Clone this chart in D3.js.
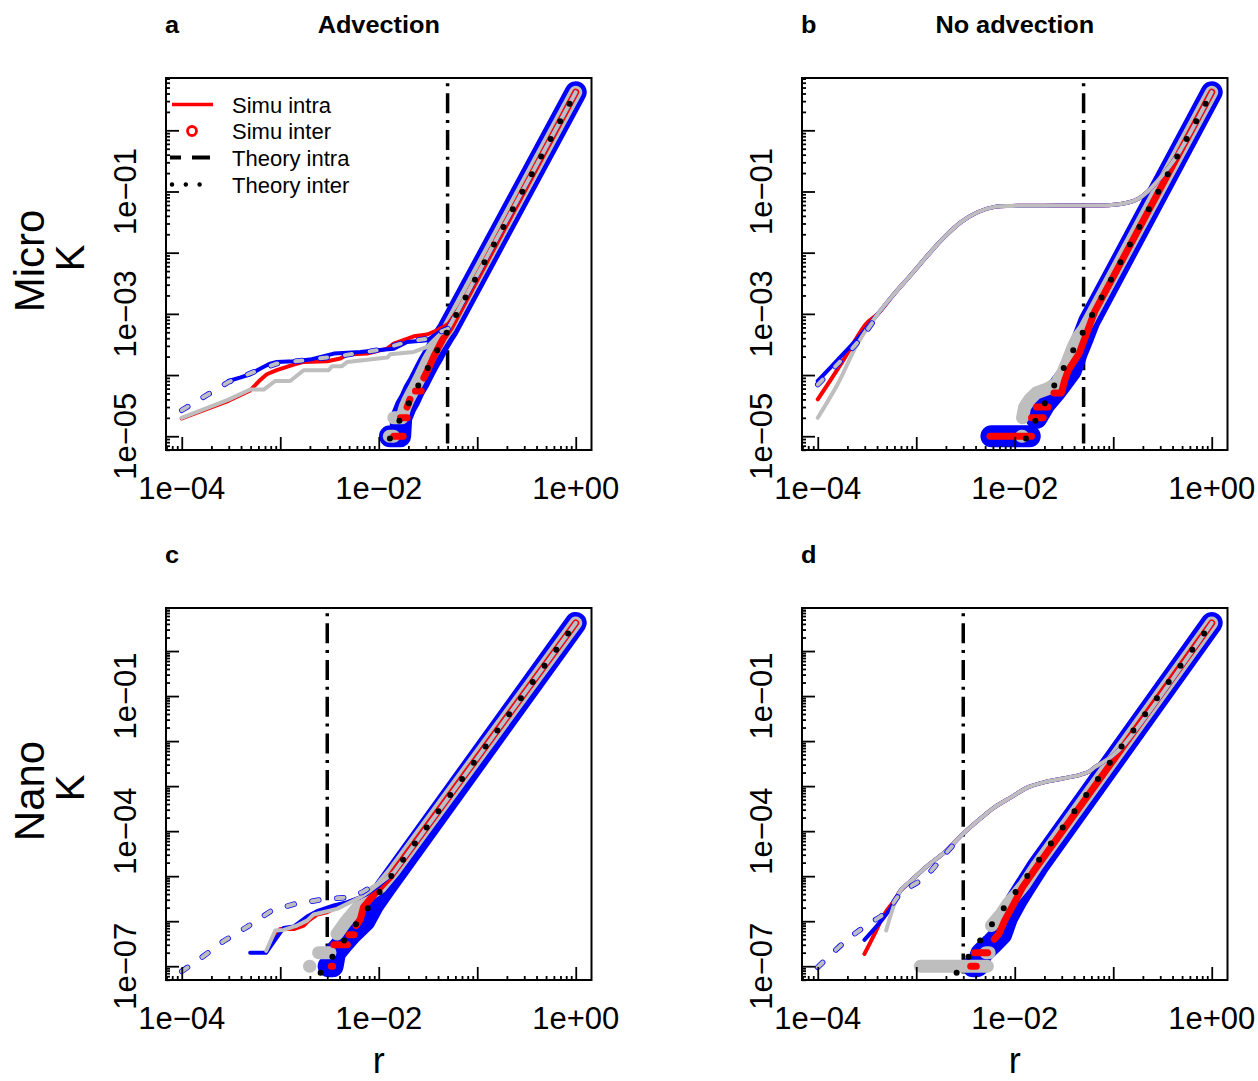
<!DOCTYPE html>
<html>
<head>
<meta charset="utf-8">
<script src="https://cdn.jsdelivr.net/npm/d3@7/dist/d3.min.js"></script>
<style>
  body { margin: 0; background: #fff; }
  svg text { font-family: "Liberation Sans", Arial, Helvetica, sans-serif; fill: #000; }
</style>
</head>
<body>
<svg id="fig" width="1258" height="1081"></svg>
<script>
// ---- labels
const titles = ["Advection", "No advection"];
const panelTags = ["a", "b", "c", "d"];
const rowLabels = ["Micro", "Nano"];
const legendLabels = ["Simu intra", "Simu inter", "Theory intra", "Theory inter"];
const xLabelVals = [1e-4, 1e-2, 1];
const xLabelText = ["1e\u221204", "1e\u221202", "1e+00"];
const yLabelVals = [[1e-5, 1e-3, 1e-1], [1e-7, 1e-4, 1e-1]];
const yLabelText = [["1e\u221205", "1e\u221203", "1e\u221201"], ["1e\u221207", "1e\u221204", "1e\u221201"]];

// vertical cut-off radius per panel
const rCut = [0.05, 0.05, 0.003, 0.003];

// theory inter (K of a uniform pattern), read at both ends
const theoryInter = [[1e-4, 4.2e-12], [1, 4.2]];

// ---- panel a : micro, advection   [r, K]
const intraRedA = [[1e-4,1.95e-5],[2.98e-4,3.8e-5],[4.95e-4,5.6e-5],[6.3e-4,8.4e-5],[7.3e-4,1.03e-4],[9.2e-4,1.2e-4],[1.37e-3,1.48e-4],[1.73e-3,1.64e-4],[3.0e-3,1.68e-4],[4.07e-3,1.86e-4],[4.8e-3,2.16e-4],[7.6e-3,2.24e-4],[1.22e-2,2.7e-4],[1.42e-2,3.27e-4],[2.27e-2,4.3e-4],[3.1e-2,4.6e-4],[3.92e-2,5.4e-4],[5.07e-2,6.8e-4],[7e-2,1.45e-3],[1,4.2]];
const intraBlueA = [[2.98e-4,8.0e-5],[3.9e-4,9.1e-5],[4.95e-4,1.03e-4],[6.3e-4,1.28e-4],[7.9e-4,1.54e-4],[9.2e-4,1.64e-4],[1.37e-3,1.68e-4],[2.0e-3,1.79e-4],[3.5e-3,2.24e-4],[6.5e-3,2.39e-4],[9.6e-3,2.54e-4],[1.42e-2,2.7e-4],[1.94e-2,3.48e-4],[3.1e-2,3.7e-4],[3.92e-2,4.76e-4],[5.07e-2,6.1e-4],[7e-2,1.45e-3],[1,4.2]];
const intraGreyA = [[1e-4,2.0e-5],[2.98e-4,3.97e-5],[4.95e-4,5.8e-5],[6.8e-4,5.8e-5],[8.9e-4,8.0e-5],[1.26e-3,8.0e-5],[1.73e-3,1.2e-4],[3.1e-3,1.2e-4],[3.35e-3,1.39e-4],[4.2e-3,1.39e-4],[4.8e-3,1.64e-4],[1.22e-2,1.93e-4],[1.31e-2,2.19e-4],[2.27e-2,2.39e-4],[3.1e-2,2.88e-4],[3.48e-2,3.48e-4],[4.24e-2,4.76e-4],[5.07e-2,5.7e-4],[1,4.2]];
const theoryIntraA = [[1e-4,2.66e-5],[2.98e-4,7.7e-5],[6.3e-4,1.24e-4],[9.2e-4,1.54e-4],[2.0e-3,1.79e-4],[4.4e-3,2.1e-4],[9.6e-3,2.54e-4],[1.94e-2,3.48e-4],[3.1e-2,3.94e-4],[4.24e-2,5.1e-4],[5.07e-2,5.7e-4]];
const interBlueA = [[[1.3e-2,1e-5],[1.65e-2,1e-5],[1.69e-2,2e-5],[1.87e-2,3e-5],[2.07e-2,4e-5],[2.27e-2,5.6e-5],[2.55e-2,7.7e-5],[2.87e-2,1.12e-4],[3.22e-2,1.6e-4],[3.62e-2,2.2e-4],[4.07e-2,3.2e-4],[4.58e-2,4.4e-4],[5.07e-2,5.7e-4],[1,4.2]]];
const interGreyA = [[[1.28e-2,1e-5],[1.42e-2,1e-5]],[[1.42e-2,2e-5],[1.72e-2,2e-5],[1.85e-2,3e-5],[2.0e-2,4e-5],[2.15e-2,5e-5],[2.35e-2,6.5e-5],[2.6e-2,9e-5],[2.9e-2,1.3e-4],[3.2e-2,1.8e-4],[3.6e-2,2.5e-4],[4.1e-2,3.5e-4],[4.6e-2,4.7e-4],[5.1e-2,5.9e-4],[1,4.2]]];
const interRedA = [[[1.42e-2,1e-5],[1.77e-2,1e-5]],[[1.66e-2,2e-5],[1.94e-2,2e-5]],[[1.94e-2,3e-5],[2.07e-2,4e-5]],[[2.36e-2,5.5e-5],[2.7e-2,5.5e-5]],[[2.87e-2,9e-5],[3.22e-2,1.3e-4],[3.62e-2,2.0e-4],[4.07e-2,2.9e-4],[4.6e-2,4.2e-4],[5.36e-2,6.0e-4],[1,4.2]]];

// ---- panel b : micro, no advection
const intraTailB = [[4.07e-4,1.0e-3],[6.0e-4,2.14e-3],[8.9e-4,4.4e-3],[1.31e-3,9.1e-3],[1.94e-3,1.81e-2],[2.87e-3,3.18e-2],[4.24e-3,4.63e-2],[6.26e-3,5.6e-2],[9.25e-3,5.8e-2],[2.02e-2,5.87e-2],[4.99e-2,5.9e-2],[9.6e-2,6.0e-2],[0.142,6.6e-2],[0.18,7.6e-2],[0.227,0.102],[0.276,0.143],[0.335,0.208],[0.458,0.416],[1,4.2]];
const intraRedB = [[1e-4,4.0e-5],[1.73e-4,1.54e-4],[3.1e-4,6.9e-4], ...intraTailB];
const intraBlueB = [[1e-4,8.0e-5],[1.6e-4,1.79e-4],[2.76e-4,4.6e-4], ...intraTailB];
const intraGreyB = [[1e-4,2.0e-5],[1.6e-4,7.2e-5],[2.55e-4,3.3e-4], ...intraTailB];
const theoryIntraB = [[1e-4,7e-5],[2.6e-4,3.6e-4],[4.07e-4,9.6e-4]];
const interBlueB = [[[5.8e-3,1e-5],[1.42e-2,1e-5]],[[1.66e-2,2e-5],[2.02e-2,3.4e-5],[2.6e-2,5.5e-5],[3.1e-2,8e-5],[3.72e-2,1.2e-4],[4.24e-2,2.24e-4],[4.97e-2,4.2e-4],[5.7e-2,7.5e-4],[1,4.2]]];
const interGreyB = [[[1.17e-2,1e-5],[1.2e-2,1e-5]],[[1.2e-2,2e-5],[1.26e-2,3e-5],[1.42e-2,4e-5],[1.66e-2,5.1e-5],[2.18e-2,6e-5],[2.65e-2,7.3e-5],[3.1e-2,1.12e-4],[3.48e-2,1.75e-4],[3.92e-2,2.88e-4],[4.4e-2,4.2e-4],[5.07e-2,5.7e-4],[1,4.2]]];
const interRedB = [[[5.6e-3,1e-5],[1.48e-2,1e-5]],[[1.48e-2,2e-5],[1.94e-2,2e-5]],[[1.66e-2,3e-5],[2.18e-2,3e-5]],[[2.5e-2,5.1e-5],[2.98e-2,5.1e-5],[3.2e-2,8e-5],[3.5e-2,1.2e-4],[4.5e-2,2.24e-4],[5.2e-2,4.2e-4],[6.5e-2,1.1e-3],[1,4.2]]];

// ---- panel c : nano, advection
const intraRedC = [[7.3e-4,2.2e-7],[8.9e-4,5.2e-7],[1.0e-3,6.7e-7],[1.37e-3,6.7e-7],[1.73e-3,8.0e-7],[1.94e-3,1.03e-6],[2.36e-3,1.4e-6],[2.98e-3,1.58e-6],[4.07e-3,2.23e-6],[6.5e-3,3.4e-6],[8.9e-3,5.2e-6],[1.42e-2,1.2e-5],[1,4.2]];
const intraBlueC = [[4.95e-4,2.0e-7],[7.2e-4,2.0e-7],[1.08e-3,7.1e-7],[1.37e-3,7.6e-7],[1.87e-3,1.27e-6],[2.36e-3,1.67e-6],[3.5e-3,2.23e-6],[4.8e-3,2.64e-6],[6.5e-3,3.4e-6],[7.6e-3,4.05e-6],[9.6e-3,5.7e-6],[1.42e-2,1.2e-5],[1,4.2]];
const intraGreyC = [[7.2e-4,2.2e-7],[8.9e-4,6.2e-7],[1.08e-3,6.4e-7],[1.48e-3,8.0e-7],[1.87e-3,1.03e-6],[2.18e-3,1.41e-6],[3.77e-3,1.88e-6],[6.5e-3,3.4e-6],[8.2e-3,4.8e-6],[1.42e-2,1.2e-5],[1,4.2]];
const theoryIntraC = [[1e-4,7.7e-8],[1.64e-4,1.64e-7],[2.65e-4,3.6e-7],[4.66e-4,7.6e-7],[8.2e-4,1.73e-6],[1.42e-3,2.43e-6],[2.55e-3,2.98e-6],[4.95e-3,3.4e-6],[6.8e-3,4.4e-6],[8.9e-3,6.3e-6]];
const interBlueC = [[[3.1e-3,1e-7],[3.4e-3,1e-7],[3.6e-3,2e-7],[4.24e-3,3.1e-7],[5.2e-3,5.2e-7],[7.2e-3,1.03e-6],[8.9e-3,2.43e-6],[1.17e-2,5.7e-6],[1,4.2]]];
const interGreyC = [[[1.98e-3,1e-7],[2.0e-3,1e-7]],[[2.45e-3,2e-7],[3.2e-3,2e-7]],[[3.77e-3,5.2e-7],[4.58e-3,9.5e-7],[5.57e-3,1.58e-6],[6.8e-3,2.64e-6],[8.2e-3,4.05e-6],[1.04e-2,5.7e-6],[1.42e-2,1.29e-5],[1,4.2]]];
const interRedC = [[[3.3e-3,1e-7],[3.4e-3,1e-7]],[[3.5e-3,3e-7],[4.8e-3,3e-7]],[[5.0e-3,5e-7],[5.6e-3,5e-7]],[[5.9e-3,8e-7],[6.5e-3,1.1e-6],[7.0e-3,2.05e-6],[8.2e-3,3.13e-6],[1.04e-2,5.7e-6],[1.3e-2,9.5e-6],[1,4.2]]];

// ---- panel d : nano, no advection
const intraTailD = [[6.93e-4,4.8e-6],[8.9e-4,8.0e-6],[1.31e-3,1.73e-5],[1.94e-3,3.4e-5],[2.98e-3,8.7e-5],[4.58e-3,1.98e-4],[6.26e-3,3.41e-4],[9.25e-3,5.7e-4],[1.37e-2,9.5e-4],[2.02e-2,1.23e-3],[2.98e-2,1.46e-3],[4.4e-2,1.73e-3],[5.57e-2,2.05e-3],[6.5e-2,2.64e-3],[7.6e-2,3.24e-3],[9.6e-2,4.56e-3],[0.131,8.7e-3],[1,4.2]];
const intraRedD = [[2.98e-4,1.88e-7],[3.77e-4,5.2e-7],[4.77e-4,1.46e-6],[6.0e-4,2.88e-6], ...intraTailD];
const intraBlueD = [[2.98e-4,3.85e-7],[4.58e-4,1.13e-6],[6.0e-4,2.64e-6], ...intraTailD];
const intraGreyD = [[4.95e-4,6.2e-7], ...intraTailD];
const theoryIntraD = [[1e-4,9.5e-8],[1.94e-4,3.7e-7],[3.1e-4,8e-7],[4.95e-4,1.58e-6],[7.0e-4,4.2e-6],[1.22e-3,9.5e-6],[1.94e-3,3.0e-5],[2.98e-3,8.7e-5]];
const interBlueD = [[[3.77e-3,1e-7],[4.17e-3,1e-7],[4.58e-3,1.9e-7],[5.8e-3,3.1e-7],[7.3e-3,5.2e-7],[8.4e-3,1.23e-6],[1.04e-2,2.9e-6],[1.26e-2,5.7e-6],[1.7e-2,1.6e-5],[1,4.2]]];
const interGreyD = [[[1.1e-3,1e-7],[5.27e-3,1e-7]],[[5.1e-3,2e-7],[5.5e-3,2e-7]],[[5.8e-3,8e-7],[7.3e-3,1.46e-6],[8.5e-3,2.4e-6],[1.0e-2,3.6e-6],[1.25e-2,6.5e-6],[1.7e-2,1.8e-5],[1,4.2]]];
const interRedD = [[[3.57e-3,1e-7],[4.07e-3,1e-7]],[[3.9e-3,2e-7],[5.3e-3,2e-7]],[[6.2e-3,4e-7],[6.9e-3,5.2e-7],[7.9e-3,1.03e-6],[1.02e-2,2.88e-6],[1.2e-2,5.7e-6],[1.6e-2,1.4e-5],[1,4.2]]];

// ---- layout
const RED = "#ff0000", BLUE = "#0000ff", GREY = "#bebebe";
const boxW = 425.5, boxH = 372;
const colX = [166, 802], rowY = [78, 608];
const xDomain = [Math.pow(10, -4.16), Math.pow(10, 0.16)];
const yDomain = [[Math.pow(10, -5.225), Math.pow(10, 0.855)], [Math.pow(10, -7.306), Math.pow(10, 0.956)]];

const panels = [
  {col: 0, row: 0, smooth: false, intra: [intraRedA, intraBlueA, intraGreyA], theory: theoryIntraA, inter: [interBlueA, interGreyA, interRedA]},
  {col: 1, row: 0, smooth: true,  intra: [intraRedB, intraBlueB, intraGreyB], theory: theoryIntraB, inter: [interBlueB, interGreyB, interRedB]},
  {col: 0, row: 1, smooth: false, intra: [intraRedC, intraBlueC, intraGreyC], theory: theoryIntraC, inter: [interBlueC, interGreyC, interRedC]},
  {col: 1, row: 1, smooth: true,  intra: [intraRedD, intraBlueD, intraGreyD], theory: theoryIntraD, inter: [interBlueD, interGreyD, interRedD]}
];

const svg = d3.select("#fig");
const isDecade = v => { const l = Math.log10(v); return Math.abs(l - Math.round(l)) < 1e-6; };

panels.forEach((p, i) => {
  const left = colX[p.col], top = rowY[p.row], right = left + boxW, bottom = top + boxH;
  const x = d3.scaleLog().domain(xDomain).range([left, right]);
  const y = d3.scaleLog().domain(yDomain[p.row]).range([bottom, top]);

  const clipId = "clip" + i;
  svg.append("clipPath").attr("id", clipId)
    .append("rect").attr("x", left).attr("y", top).attr("width", boxW).attr("height", boxH);
  const plot = svg.append("g").attr("clip-path", `url(#${clipId})`);

  const lin = d3.line().x(d => x(d[0])).y(d => y(d[1]));
  const smo = d3.line().x(d => x(d[0])).y(d => y(d[1])).curve(d3.curveCatmullRom.alpha(0.5));
  const intraLine = p.smooth ? smo : lin;

  // cut-off radius (dot-dash)
  plot.append("line")
    .attr("x1", x(rCut[i])).attr("x2", x(rCut[i]))
    .attr("y1", top).attr("y2", bottom)
    .attr("stroke", "#000").attr("stroke-width", 3.5)
    .attr("stroke-dasharray", "3,7,20,6.7").attr("stroke-dashoffset", 31.4);

  // simu inter: dense circles -> thick bands
  const bandW = [22, 13, 7], bandC = [BLUE, GREY, RED];
  p.inter.forEach((segs, k) => {
    plot.append("g").selectAll("path").data(segs).join("path")
      .attr("d", lin)
      .attr("fill", "none")
      .attr("stroke", bandC[k]).attr("stroke-width", bandW[k])
      .attr("stroke-linecap", "round").attr("stroke-linejoin", "round");
  });

  // simu intra
  [RED, BLUE, GREY].forEach((c, k) => {
    plot.append("path").datum(p.intra[k])
      .attr("d", intraLine)
      .attr("fill", "none").attr("stroke", c).attr("stroke-width", 4)
      .attr("stroke-linecap", "round").attr("stroke-linejoin", "round");
  });

  // theory intra (dashed)
  [[BLUE, 5.5], [GREY, 4]].forEach(([c, w]) => {
    plot.append("path").datum(p.theory)
      .attr("d", intraLine)
      .attr("fill", "none").attr("stroke", c).attr("stroke-width", w)
      .attr("stroke-dasharray", "7,18").attr("stroke-linecap", "round");
  });

  // theory inter (dotted)
  plot.append("path").datum(theoryInter.slice().reverse())
    .attr("d", lin)
    .attr("fill", "none").attr("stroke", "#000").attr("stroke-width", 6)
    .attr("stroke-dasharray", "0,20").attr("stroke-dashoffset", 7)
    .attr("stroke-linecap", "round");

  // box
  svg.append("rect").attr("x", left).attr("y", top).attr("width", boxW).attr("height", boxH)
    .attr("fill", "none").attr("stroke", "#000").attr("stroke-width", 2);

  // ticks (inward)
  const xt = x.ticks(), yt = y.ticks();
  const tickAxis = (axis, tr) => svg.append("g").attr("transform", tr).call(axis)
    .call(a => a.select(".domain").remove())
    .call(a => a.selectAll("line").attr("stroke-width", 1.8))
    .call(a => a.selectAll("text").remove());
  tickAxis(d3.axisBottom(x).tickValues(xt.filter(v => !isDecade(v))).tickSize(-4), `translate(0,${bottom})`);
  tickAxis(d3.axisBottom(x).tickValues(xt.filter(isDecade)).tickSize(-13), `translate(0,${bottom})`);
  tickAxis(d3.axisLeft(y).tickValues(yt.filter(v => !isDecade(v))).tickSize(-4), `translate(${left},0)`);
  tickAxis(d3.axisLeft(y).tickValues(yt.filter(isDecade)).tickSize(-13), `translate(${left},0)`);

  // tick labels
  svg.append("g").selectAll("text").data(xLabelVals).join("text")
    .attr("x", d => x(d)).attr("y", bottom + 49)
    .attr("text-anchor", "middle").style("font-size", "31px")
    .text((d, j) => xLabelText[j]);
  svg.append("g").selectAll("text").data(yLabelVals[p.row]).join("text")
    .attr("transform", d => `translate(${left - 30},${y(d)}) rotate(-90)`)
    .attr("text-anchor", "middle").style("font-size", "31px")
    .text((d, j) => yLabelText[p.row][j]);

  // panel tag and column title
  svg.append("text")
    .attr("transform", `translate(${left - 1},${top - 45}) scale(1.1,1)`)
    .style("font-size", "23px").style("font-weight", "bold")
    .text(panelTags[i]);
  if (p.row === 0) {
    svg.append("text")
      .attr("transform", `translate(${left + boxW / 2},${top - 45}) scale(1.1,1)`)
      .attr("text-anchor", "middle")
      .style("font-size", "23px").style("font-weight", "bold")
      .text(titles[p.col]);
  }
  if (p.col === 0) {
    const cy = top + boxH / 2 - 3;
    svg.append("text").attr("transform", `translate(44,${cy}) rotate(-90)`)
      .attr("text-anchor", "middle").style("font-size", "42px").text(rowLabels[p.row]);
    svg.append("text").attr("transform", `translate(84,${cy - 3}) rotate(-90)`)
      .attr("text-anchor", "middle").style("font-size", "40px").text("K");
  }
  if (p.row === 1) {
    svg.append("text").attr("x", left + boxW / 2).attr("y", 1073)
      .attr("text-anchor", "middle").style("font-size", "36px").text("r");
  }
});

// ---- legend (panel a)
const lg = svg.append("g");
const lys = [104.5, 131, 157.5, 184.5];
lg.append("line").attr("x1", 172).attr("x2", 213).attr("y1", lys[0]).attr("y2", lys[0])
  .attr("stroke", RED).attr("stroke-width", 3.5);
lg.append("circle").attr("cx", 192).attr("cy", lys[1]).attr("r", 4.5)
  .attr("fill", "none").attr("stroke", RED).attr("stroke-width", 2.8);
lg.append("line").attr("x1", 170).attr("x2", 211).attr("y1", lys[2]).attr("y2", lys[2])
  .attr("stroke", "#000").attr("stroke-width", 4).attr("stroke-dasharray", "11,11,18,40");
lg.append("line").attr("x1", 172).attr("x2", 205).attr("y1", lys[3]).attr("y2", lys[3])
  .attr("stroke", "#000").attr("stroke-width", 4.5).attr("stroke-dasharray", "0,13.8")
  .attr("stroke-linecap", "round");
lg.selectAll("text").data(legendLabels).join("text")
  .attr("x", 232).attr("y", (d, i) => lys[i] + 8)
  .style("font-size", "22px").text(d => d);
</script>
</body>
</html>
